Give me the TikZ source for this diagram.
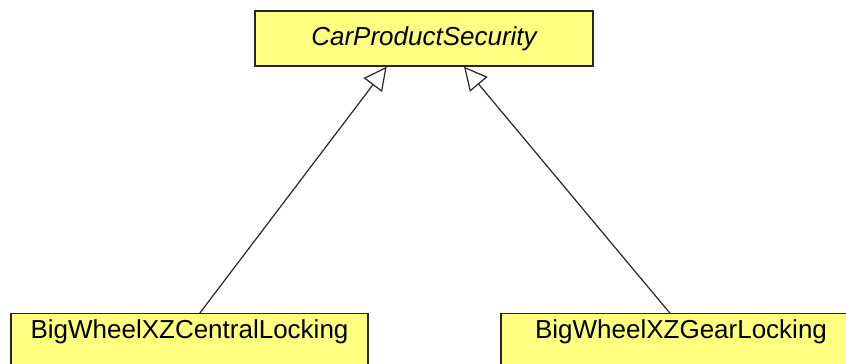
\documentclass[tikz,border=0pt]{standalone}
\usepackage{fontspec}
\setmainfont{Liberation Sans}
\usetikzlibrary{arrows.meta,calc}
\definecolor{classfill}{RGB}{255,255,128}
\tikzset{
  classbox/.style={draw=black!85, fill=classfill, line width=1.4pt, inner sep=0pt,
    font=\fontsize{26}{30}\selectfont},
  gen/.style={draw=black!85, line width=1.2pt,
    -{Triangle[open, length=23pt, width=23pt, fill=white]}}
}
\begin{document}
\begin{tikzpicture}[x=1pt,y=-1pt]
\useasboundingbox (0,0) rectangle (846,364);
\clip (0,0) rectangle (846,364);
\node[classbox, minimum width=338pt, minimum height=55pt, font=\fontsize{26}{30}\selectfont\itshape] (top) at (424,38.5) {CarProductSecurity};
\node[classbox, anchor=north, minimum width=357pt, inner ysep=9pt, text height=16pt, text depth=40pt] (left) at (189.5,313) {BigWheelXZCentralLocking};
\node[classbox, anchor=north, minimum width=360pt, inner ysep=9pt, text height=16pt, text depth=40pt] (right) at (681,313) {BigWheelXZGearLocking};
\draw[gen] ($(left.north west)!0.529!(left.north east)$) -- ($(top.south west)!0.39!(top.south east)$);
\draw[gen] ($(right.north west)!0.469!(right.north east)$) -- ($(top.south west)!0.618!(top.south east)$);
\end{tikzpicture}
\end{document}
